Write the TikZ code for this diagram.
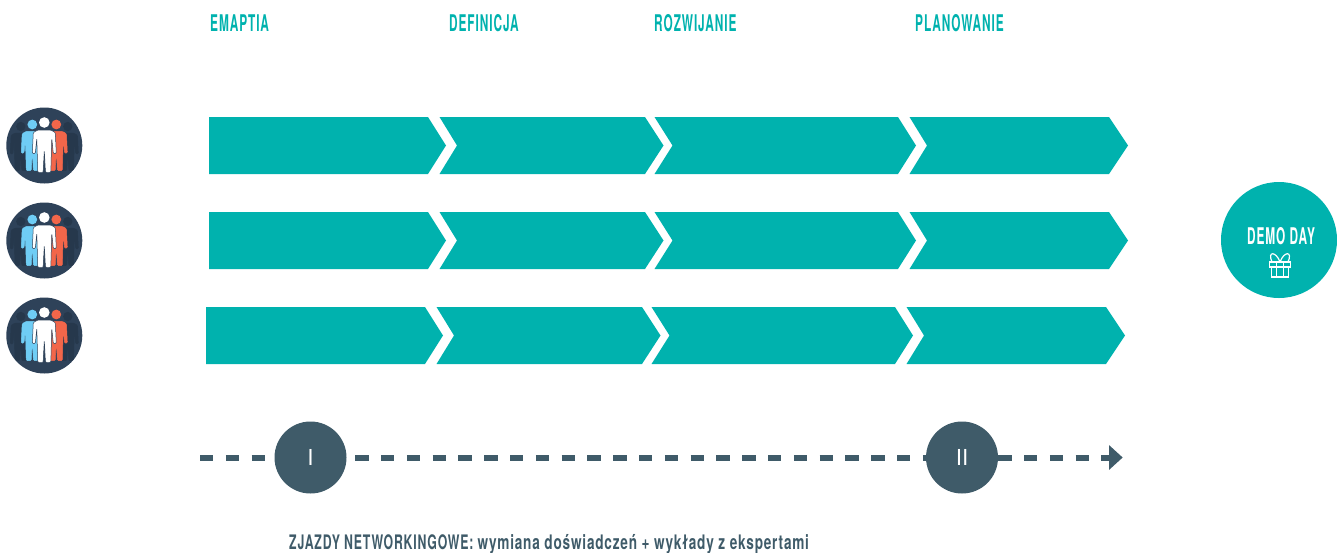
\documentclass[tikz,border=0pt]{standalone}
\usepackage{fontspec}
\usetikzlibrary{arrows.meta}
\newfontfamily\headfont[FakeStretch=0.515,LetterSpace=4]{TeX Gyre Heros Bold}
\newfontfamily\capfont[FakeStretch=0.615,LetterSpace=4]{TeX Gyre Heros Bold}
\newfontfamily\lowfont[FakeStretch=0.68,LetterSpace=4]{TeX Gyre Heros Bold}
\newfontfamily\hubfont{TeX Gyre Heros}
\definecolor{teal1}{HTML}{00B2AE}
\definecolor{slate1}{HTML}{3F5B69}
\definecolor{navy1}{HTML}{2E4259}
\definecolor{navy2}{HTML}{26384C}
\definecolor{blue1}{HTML}{6FCDF5}
\definecolor{red1}{HTML}{F2664A}
\tikzset{
 x=1pt,y=-1pt,
 head/.style={font=\headfont\fontsize{23}{23}\selectfont,text=teal1,anchor=base west,inner sep=0pt},
 chev/.style={fill=teal1,draw=none},
 hub/.style={circle,fill=slate1,minimum size=72pt,inner sep=0pt,text=white,font=\hubfont\fontsize{22}{22}\selectfont},
 dashline/.style={draw=slate1,line width=6pt,dash pattern=on 13.4pt off 12.4pt},
}
\newcommand{\person}[5]{% x, y of head centre, scale, colour, outline
 \begin{scope}[shift={(#1,#2)},scale=#3]
  \fill[#4] (0,0) circle (5.3);
  \path[fill=#4,draw=#5,line width=.5pt,rounded corners=1] (-6.5,7.5) -- (6.5,7.5) -- (11,10) -- (12,31) -- (9,31) -- (7.5,16) -- (6.5,50) -- (1.2,50) -- (0,28) -- (-1.2,50) -- (-6.5,50) -- (-7.5,16) -- (-9,31) -- (-12,31) -- (-11,10) -- cycle;
 \end{scope}}
\newcommand{\team}[3]{% name, x, y
 \node[circle,fill=navy1,minimum size=76pt,inner sep=0pt] (#1) at (#2,#3) {};
 \begin{scope}[shift={(#1.center)}]
  \begin{scope}
   \clip (0,0) circle (37.5);
   \person{-23.5}{-19}{.88}{navy2}{navy2}
   \person{23.5}{-19}{.88}{navy2}{navy2}
  \end{scope}
  \person{-12}{-21}{.92}{blue1}{blue1}
  \person{12}{-21}{.92}{red1}{red1}
  \person{0}{-23}{1}{white}{navy1}
 \end{scope}}
\newcommand{\row}[3]{% prefix, x offset, top y
 \begin{scope}[shift={(#2,#3)}]
  \fill[chev] (209,0) -- (428,0) -- (446,28.5) -- (428,57) -- (209,57) -- cycle;
  \fill[chev] (439.5,0) -- (645,0) -- (663.5,28.5) -- (645,57) -- (439.5,57) -- (457,28.5) -- cycle;
  \fill[chev] (654.5,0) -- (898,0) -- (916,28.5) -- (898,57) -- (654.5,57) -- (672.5,28.5) -- cycle;
  \fill[chev] (909.5,0) -- (1109,0) -- (1128,28.5) -- (1109,57) -- (909.5,57) -- (927,28.5) -- cycle;
 \end{scope}}
\begin{document}
\begin{tikzpicture}
\useasboundingbox (0,0) rectangle (1337,552);
\node[head] (h1) at (210,31) {EMAPTIA};
\node[head] (h2) at (449,31) {DEFINICJA};
\node[head] (h3) at (654,31) {ROZWIJANIE};
\node[head] (h4) at (915,31) {PLANOWANIE};
\team{t1}{44.3}{145.5}
\team{t2}{44.3}{240.5}
\team{t3}{44.3}{335.5}
\row{a}{0}{117}
\row{b}{0}{212}
\row{c}{-3}{307}
\node[circle,fill=teal1,minimum size=116pt,inner sep=0pt] (demo) at (1279,240) {};
\node[font=\headfont\fontsize{23}{23}\selectfont,text=white,inner sep=0pt,anchor=base] (demotext) at (1281,244) {DEMO DAY};
\begin{scope}[shift={(1280,262)},draw=white,line width=1.2pt]
 \draw (-8.5,5) -- (-8.5,15) -- (8.5,15) -- (8.5,5);
 \draw (-10.5,0) rectangle (10.5,5);
 \draw (-3.5,0) -- (-3.5,15) (3.5,0) -- (3.5,15);
 \draw (0,0) .. controls (-4,-11) and (-13,-11) .. (-8,0);
 \draw (0,0) .. controls (4,-11) and (13,-11) .. (8,0);
\end{scope}
\node[hub] (one) at (310.5,457.5) {I};
\node[hub] (two) at (962,457.5) {II};
\coordinate (s) at (200,457.5);
\coordinate (e) at (1122.7,457.5);
\draw[dashline] (s) -- (one.west);
\draw[dashline,dash phase=17.3pt] (one.east) -- (two.west);
\draw[dashline,-{Triangle[length=13.7pt,width=24pt]}] (two.east) -- (e);
\node[anchor=base west,inner sep=0pt,text=slate1] (cap) at (289,549)
 {\capfont\fontsize{20}{20}\selectfont ZJAZDY NETWORKINGOWE: {\lowfont\fontsize{20}{20}\selectfont wymiana doświadczeń + wykłady z ekspertami}};
\end{tikzpicture}
\end{document}
